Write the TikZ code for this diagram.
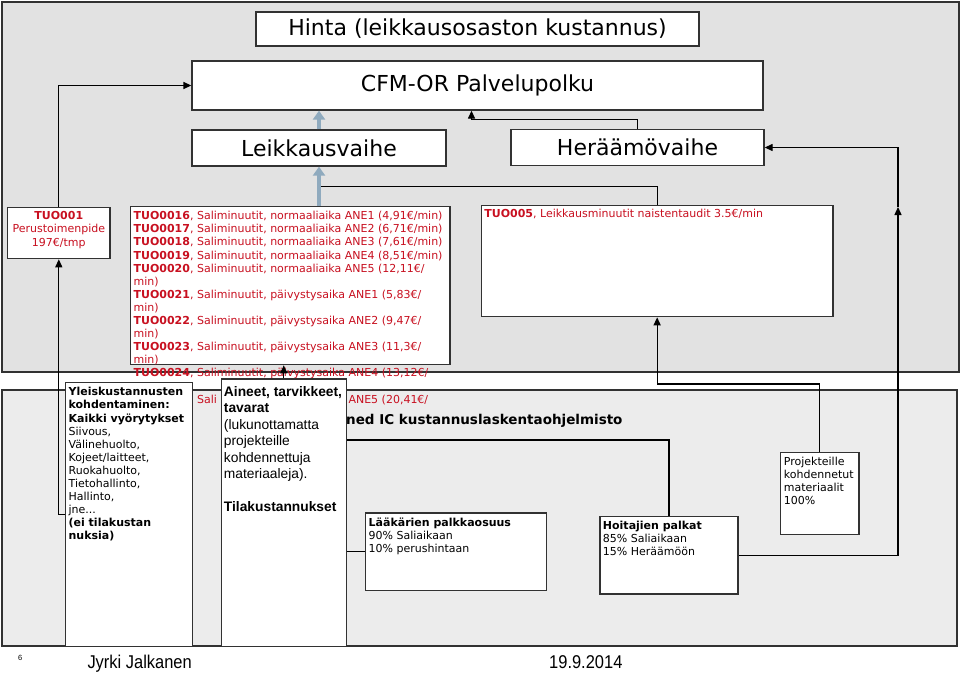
\documentclass[tikz,border=0pt]{standalone}
\usepackage{fontspec}
\setmainfont{DejaVu Sans}
\newfontfamily\arialfont{Liberation Sans}
\usetikzlibrary{arrows.meta,calc}
\definecolor{tuored}{RGB}{200,16,32}
\definecolor{panelA}{RGB}{226,226,226}
\definecolor{panelB}{RGB}{236,236,236}
\definecolor{frame}{RGB}{50,50,50}
\definecolor{pathblue}{RGB}{143,170,190}
\newcommand{\boxtxt}[3]{\parbox[t][#2][t]{#1}{\raggedright #3}}
\tikzset{
	panel/.style={draw=frame,line width=1.4pt},
	title/.style={draw=frame,fill=white,line width=1.3pt,inner sep=0pt,font=\fontsize{22}{24}\selectfont},
	txtbox/.style={draw=frame,fill=white,line width=1.3pt,anchor=north west,inner xsep=3pt,font=\fontsize{11}{13.1}\selectfont},
	conn/.style={line width=1.3pt,black},
	arr/.style={-{Triangle[length=8pt,width=7pt]}},
	bluearrow/.style={line width=4pt,pathblue,-{Triangle[length=9pt,width=12pt]}}
}
\begin{document}
\begin{tikzpicture}[x=1pt,y=-1pt]
						\useasboundingbox[fill=white] (0,0) rectangle (960,672);
						\draw[panel,fill=panelA] (2,2) rectangle (959,372);% Upper Panel
						\draw[panel,fill=panelB] (2,390) rectangle (957,646);% Lower Panel
						\coordinate (P) at (0,384);
						\coordinate (R) at (898,207);
						\node[title,minimum width=443pt,minimum height=34pt] (hinta) at (477.5,29) {Hinta (leikkausosaston kustannus)};
						\node[title,minimum width=571pt,minimum height=49pt] (cfm) at (477.5,85.5) {CFM-OR Palvelupolku};
						\node[title,minimum width=254pt,minimum height=36pt] (leik) at (319,148) {Leikkausvaihe};
						\node[title,minimum width=253pt,minimum height=36pt] (hera) at (637.5,147.5) {Heräämövaihe};
						\node[txtbox,inner ysep=4.3pt,text=tuored] (tuoP) at (7,206.7) {\boxtxt{96.3pt}{42.7pt}{\centering\textbf{TUO001}\\Perustoimenpide\\197€/tmp}};% Basic Price
						\node[txtbox,inner ysep=5pt,text=tuored] (tuoA) at (130,205.7) {\boxtxt{313.3pt}{148.3pt}{%
							\textbf{TUO0016}, Saliminuutit, normaaliaika ANE1 (4,91€/min)\\
							\textbf{TUO0017}, Saliminuutit, normaaliaika ANE2 (6,71€/min)\\
							\textbf{TUO0018}, Saliminuutit, normaaliaika ANE3 (7,61€/min)\\
							\textbf{TUO0019}, Saliminuutit, normaaliaika ANE4 (8,51€/min)\\
							\textbf{TUO0020}, Saliminuutit, normaaliaika ANE5 (12,11€/\\min)\\
							\textbf{TUO0021}, Saliminuutit, päivystysaika ANE1 (5,83€/\\min)\\
							\textbf{TUO0022}, Saliminuutit, päivystysaika ANE2 (9,47€/\\min)\\
							\textbf{TUO0023}, Saliminuutit, päivystysaika ANE3 (11,3€/\\min)\\
							\textbf{TUO0024}, Saliminuutit, päivystysaika ANE4 (13,12€/\\[13.1pt]
							\phantom{\textbf{TUO0025}, }Sali\phantom{minuutit, päivystysaika }ANE5 (20,41€/}};% Room Minutes
						\node[txtbox,inner ysep=3.6pt,text=tuored] (tuoE) at (480.7,205) {\boxtxt{345.6pt}{103.8pt}{\textbf{TUO005}, Leikkausminuutit naistentaudit 3.5€/min}};
						\node[anchor=base west,inner sep=0pt,font=\bfseries\fontsize{13.5}{16}\selectfont] (ic) at (346,424) {ned IC kustannuslaskentaohjelmisto};
						\node[txtbox,inner ysep=5.3pt] (yleis) at (65,381.5) {\boxtxt{121pt}{253.9pt}{%
							\textbf{Yleiskustannusten}\\\textbf{kohdentaminen:}\\\textbf{Kaikki vyörytykset}\\Siivous,\\Välinehuolto,\\Kojeet/laitteet,\\Ruokahuolto,\\Tietohallinto,\\Hallinto,\\jne...\\\textbf{(ei tilakustan}\\\textbf{nuksia)}}};% Overheads
						\node[txtbox,inner xsep=2.8pt,inner ysep=7.2pt,font=\arialfont\fontsize{13.8}{16.5}\selectfont] (ain) at (220.5,378.3) {\boxtxt{119.6pt}{253.3pt}{%
							\textbf{Aineet, tarvikkeet,}\\\textbf{tavarat}\\(lukunottamatta\\projekteille\\kohdennettuja\\materiaaleja).\\[16.5pt]\textbf{Tilakustannukset}}};% Materials
						\node[txtbox,inner ysep=5pt,font=\fontsize{11}{12.8}\selectfont] (lk) at (365,512.3) {\boxtxt{174.7pt}{67.7pt}{\textbf{Lääkärien palkkaosuus}\\90\% Saliaikaan\\10\% perushintaan}};
						\node[txtbox,inner ysep=5.2pt,font=\fontsize{11}{12.8}\selectfont] (hoit) at (599.3,515.7) {\boxtxt{132pt}{67.2pt}{\textbf{Hoitajien palkat}\\85\% Saliaikaan\\15\% Heräämöön}};
						\node[txtbox,inner xsep=3.3pt,inner ysep=4.9pt,font=\fontsize{11}{12.8}\selectfont] (proj) at (780,451.7) {\boxtxt{71.7pt}{72.5pt}{Projekteille\\kohdennetut\\materiaalit\\100\%}};
						\draw[conn] (tuoE.north) |- ($(leik.south)!.5!(leik.south |- tuoA.north)$);% To Leikkausvaihe
						\draw[bluearrow] (leik.north) -- (leik.north |- cfm.south);
						\draw[bluearrow] (leik.south |- tuoA.north) -- (leik.south);
						\draw[conn,arr] (hera.north) -- ($(hera.north)!.5!(hera.north |- cfm.south)$) -| ([xshift=-6pt]cfm.south);
						\draw[conn,arr] (tuoP.north) |- (cfm.west);
						\draw[conn,arr] (yleis.west) -| (tuoP.south);
						\draw[conn,arr] (ain.north) -- (ain.north |- tuoA.south);
						\draw[conn] (lk.west -| ain.east) -- (lk.west);
						\draw[conn] ([yshift=-61.7pt]ain.north east) -| (hoit.north);
						\draw[conn,arr] (hoit.east) -| (R);
						\draw[conn,arr] (R) |- (hera.east);
						\draw[conn,arr] (proj.north) -- (proj.north |- P) -| (tuoE.south);
						\node[anchor=base west,inner sep=0pt,font=\arialfont\fontsize{7.5}{8}\selectfont] (pg) at (18,660) {6};
						\node[anchor=base west,inner sep=0pt,font=\arialfont\fontsize{18.5}{20}\selectfont] (auth) at (87.3,668.3) {\scalebox{0.89}[1]{Jyrki Jalkanen}};
						\node[anchor=base west,inner sep=0pt,font=\arialfont\fontsize{18.5}{20}\selectfont] (date) at (549,668.3) {\scalebox{0.89}[1]{19.9.2014}};
						\end{tikzpicture}
\end{document}
